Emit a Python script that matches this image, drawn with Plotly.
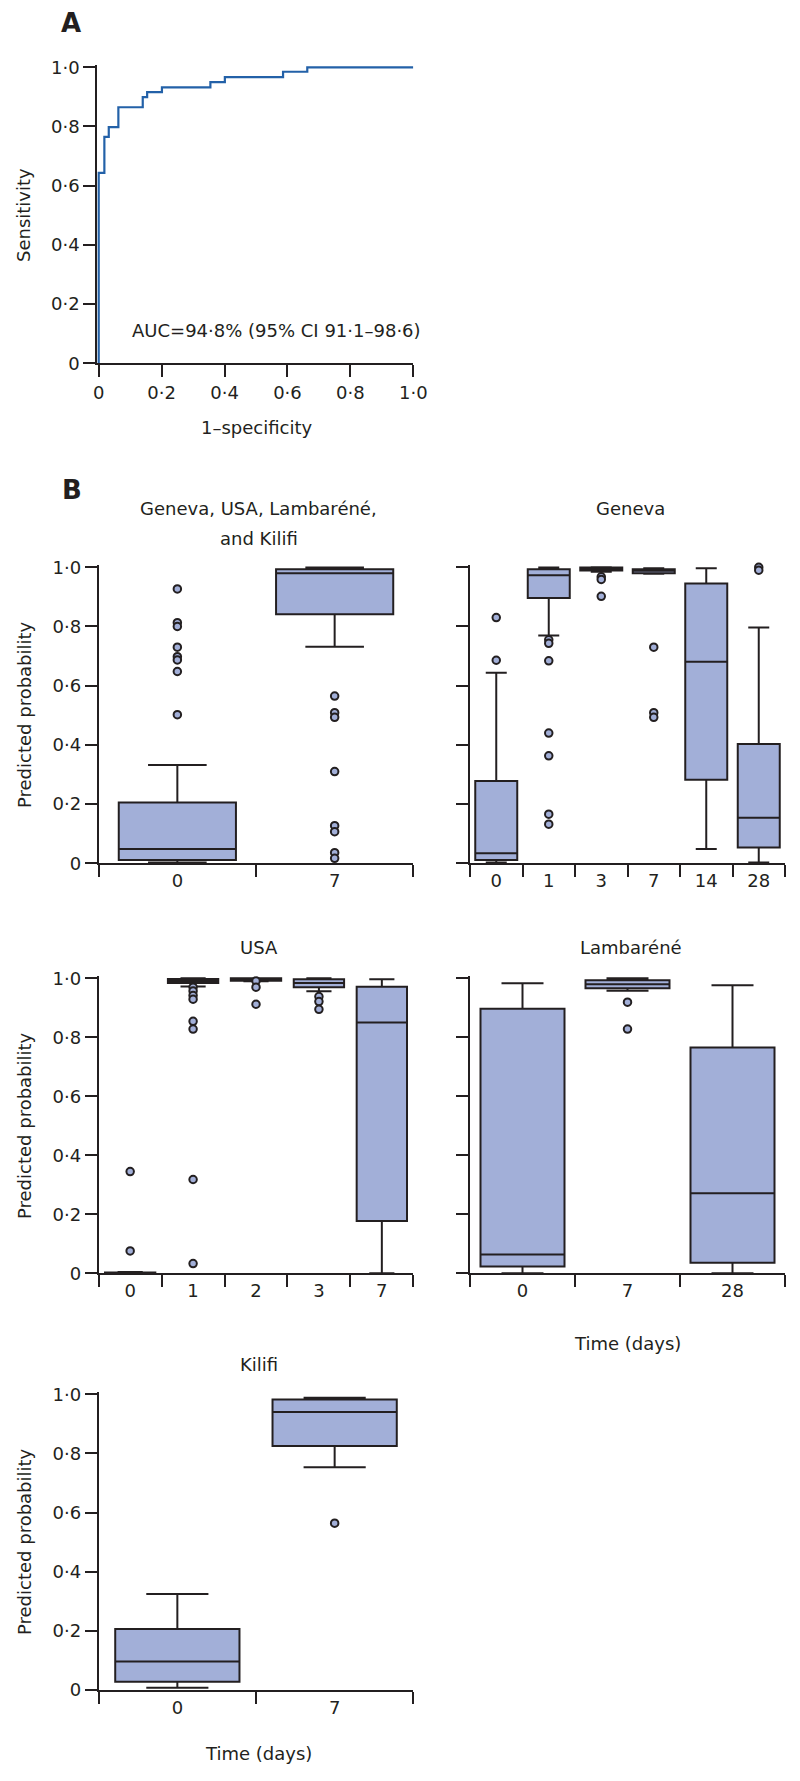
import plotly.graph_objects as go

# ---------------- data ----------------
roc_fpr = [0, 0, 0.018, 0.032, 0.0625, 0.14, 0.154, 0.201, 0.355, 0.401, 0.586, 0.663, 1.0]
roc_tpr = [0, 0.643, 0.765, 0.798, 0.865, 0.899, 0.916, 0.932, 0.95, 0.967, 0.985, 1.0, 1.0]
auc_text = "AUC=94·8% (95% CI 91·1–98·6)"

all_cats = ["0", "7"]
all_q1 = [0.011, 0.841]
all_med = [0.048, 0.98]
all_q3 = [0.205, 0.993]
all_lo = [0.003, 0.732]
all_hi = [0.332, 0.999]
all_out = {"0": [0.927, 0.813, 0.80, 0.73, 0.698, 0.687, 0.648, 0.502],
           "7": [0.565, 0.509, 0.493, 0.31, 0.127, 0.107, 0.036, 0.017]}

gen_cats = ["0", "1", "3", "7", "14", "28"]
gen_q1 = [0.011, 0.896, 0.989, 0.98, 0.282, 0.053]
gen_med = [0.034, 0.973, 0.995, 0.988, 0.681, 0.154]
gen_q3 = [0.278, 0.993, 0.999, 0.993, 0.945, 0.403]
gen_lo = [0.003, 0.77, 0.985, 0.978, 0.048, 0.003]
gen_hi = [0.644, 0.999, 1.0, 0.997, 0.997, 0.797]
gen_out = {"0": [0.83, 0.686],
           "1": [0.755, 0.743, 0.684, 0.44, 0.363, 0.166, 0.132],
           "3": [0.968, 0.959, 0.902],
           "7": [0.73, 0.509, 0.493],
           "28": [1.0, 0.99]}

usa_cats = ["0", "1", "2", "3", "7"]
usa_q1 = [0.0005, 0.984, 0.992, 0.97, 0.177]
usa_med = [0.001, 0.991, 0.997, 0.984, 0.85]
usa_q3 = [0.003, 0.998, 1.0, 0.997, 0.971]
usa_lo = [0.0, 0.972, 0.99, 0.956, 0.0]
usa_hi = [0.004, 1.0, 1.0, 1.0, 0.997]
usa_out = {"0": [0.345, 0.076],
           "1": [0.97, 0.957, 0.942, 0.929, 0.854, 0.828, 0.318, 0.033],
           "2": [0.991, 0.97, 0.912],
           "3": [0.938, 0.921, 0.895]}

lam_cats = ["0", "7", "28"]
lam_q1 = [0.023, 0.966, 0.036]
lam_med = [0.064, 0.98, 0.271]
lam_q3 = [0.897, 0.993, 0.765]
lam_lo = [0.0, 0.958, 0.0]
lam_hi = [0.983, 1.0, 0.976]
lam_out = {"7": [0.919, 0.828]}

kil_cats = ["0", "7"]
kil_q1 = [0.028, 0.825]
kil_med = [0.096, 0.94]
kil_q3 = [0.206, 0.982]
kil_lo = [0.008, 0.753]
kil_hi = [0.325, 0.988]
kil_out = {"7": [0.564]}

prob_ticks = [0, 0.2, 0.4, 0.6, 0.8, 1.0]
prob_ticktext = ["0", "0·2", "0·4", "0·6", "0·8", "1·0"]
fpr_ticks = [0, 0.2, 0.4, 0.6, 0.8, 1.0]
fpr_ticktext = ["0", "0·2", "0·4", "0·6", "0·8", "1·0"]

# ---------------- styling / layout ----------------
PAGE_OFF = 8            # default body margin of the html page
W, H = 800 - 2 * PAGE_OFF, 1781 - 2 * PAGE_OFF
INK = "#231F20"
FILL = "#A2AFD8"
BLUE = "#2361A8"
FONT = "DejaVu Sans"
FS = 18
YTOP = 1.007            # small headroom so marks at 1.0 are not clipped


def px_x(x):
    return (x - PAGE_OFF) / W


def px_y(y):
    return 1 - (y - PAGE_OFF) / H


def ydomain(p0, p1, top=YTOP):
    # p0: pixel of value 0, p1: pixel of value 1
    ptop = p0 - top * (p0 - p1)
    return [px_y(p0), px_y(ptop)]


fig = go.Figure()

axis_common = dict(showgrid=False, zeroline=False, showline=True, linecolor=INK, linewidth=1.8,
                   ticks="outside", ticklen=12, tickwidth=1.8, tickcolor=INK,
                   tickfont=dict(family=FONT, size=FS, color=INK), fixedrange=True)

# ROC panel
XLEFT = -0.005
fig.add_trace(go.Scatter(x=roc_fpr, y=roc_tpr, mode="lines", line=dict(color=BLUE, width=2.2, shape="hv"),
                         cliponaxis=False, hoverinfo="skip", xaxis="x", yaxis="y", showlegend=False))
ax0, ax1 = 98.7, 413.3
fig.update_layout(
    xaxis=dict(domain=[px_x(ax0 + XLEFT * (ax1 - ax0)), px_x(ax1)], range=[XLEFT, 1], anchor="y",
               tickvals=fpr_ticks, ticktext=fpr_ticktext, **axis_common),
    yaxis=dict(domain=ydomain(363.3, 67.3), range=[0, YTOP], anchor="x", layer="below traces",
               tickvals=prob_ticks, ticktext=prob_ticktext, **axis_common),
)

panels = [
    # (cats, q1, med, q3, lo, hi, out, width, xdom(px), (px of 0, px of 1), show y labels)
    (all_cats, all_q1, all_med, all_q3, all_lo, all_hi, all_out, 0.745, (98.7, 413.3), (863.3, 567.3), True),
    (gen_cats, gen_q1, gen_med, gen_q3, gen_lo, gen_hi, gen_out, 0.8, (470, 785), (863.3, 567.3), False),
    (usa_cats, usa_q1, usa_med, usa_q3, usa_lo, usa_hi, usa_out, 0.8, (98.7, 413.3), (1273.3, 978.3), True),
    (lam_cats, lam_q1, lam_med, lam_q3, lam_lo, lam_hi, lam_out, 0.8, (470, 785), (1273.3, 978.3), False),
    (kil_cats, kil_q1, kil_med, kil_q3, kil_lo, kil_hi, kil_out, 0.79, (98.7, 413.3), (1690, 1394.3), True),
]

for i, (cats, q1, med, q3, lo, hi, out, bw, xd, yd, showy) in enumerate(panels):
    n = i + 2
    xa, ya = f"x{n}", f"y{n}"
    fig.add_trace(go.Box(x=cats, q1=q1, median=med, q3=q3, lowerfence=lo, upperfence=hi,
                         width=bw, whiskerwidth=0.5, boxpoints=False, fillcolor=FILL,
                         line=dict(color=INK, width=2), hoverinfo="skip",
                         xaxis=xa, yaxis=ya, showlegend=False))
    ox, oy = [], []
    for c in cats:
        for v in out.get(c, []):
            ox.append(c)
            oy.append(v)
    if ox:
        fig.add_trace(go.Scatter(x=ox, y=oy, mode="markers", cliponaxis=False, hoverinfo="skip",
                                 marker=dict(size=7.5, color=FILL, line=dict(color=INK, width=2)),
                                 xaxis=xa, yaxis=ya, showlegend=False))
    fig.layout[f"xaxis{n}"] = dict(domain=[px_x(xd[0]), px_x(xd[1])], anchor=ya, type="category",
                                   categoryorder="array", categoryarray=cats,
                                   range=[-0.5, len(cats) - 0.5], tickson="boundaries", **axis_common)
    fig.layout[f"yaxis{n}"] = dict(domain=ydomain(yd[0], yd[1]), anchor=xa, range=[0, YTOP],
                                   tickvals=prob_ticks, ticktext=prob_ticktext,
                                   showticklabels=showy, **axis_common)

anns = []


def txt(x, y, s, size=FS, angle=0, xanchor="center", bold=False):
    anns.append(dict(x=px_x(x), y=px_y(y), xref="paper", yref="paper", text=s, showarrow=False,
                     xanchor=xanchor, yanchor="middle", textangle=angle,
                     font=dict(family=FONT, size=size, color=INK, weight=700 if bold else 400)))


txt(71, 23, "A", size=26, bold=True)
txt(72, 490, "B", size=26, bold=True)
txt(24, 215, "Sensitivity", angle=-90)
txt(257, 428, "1–specificity")
txt(130, 330, auc_text, xanchor="left")
txt(259, 509, "Geneva, USA, Lambaréné,")
txt(259, 538, "and Kilifi")
txt(630, 509, "Geneva")
txt(259, 948, "USA")
txt(631, 948, "Lambaréné")
txt(259, 1364, "Kilifi")
txt(24, 715, "Predicted probability", angle=-90)
txt(24, 1126, "Predicted probability", angle=-90)
txt(24, 1542, "Predicted probability", angle=-90)
txt(627, 1343, "Time (days)")
txt(258, 1753, "Time (days)")

fig.update_layout(width=W, height=H, margin=dict(l=0, r=0, t=0, b=0, autoexpand=False),
                  paper_bgcolor="white", plot_bgcolor="white", annotations=anns,
                  font=dict(family=FONT, size=FS, color=INK), showlegend=False)

fig.write_html("out.html")
